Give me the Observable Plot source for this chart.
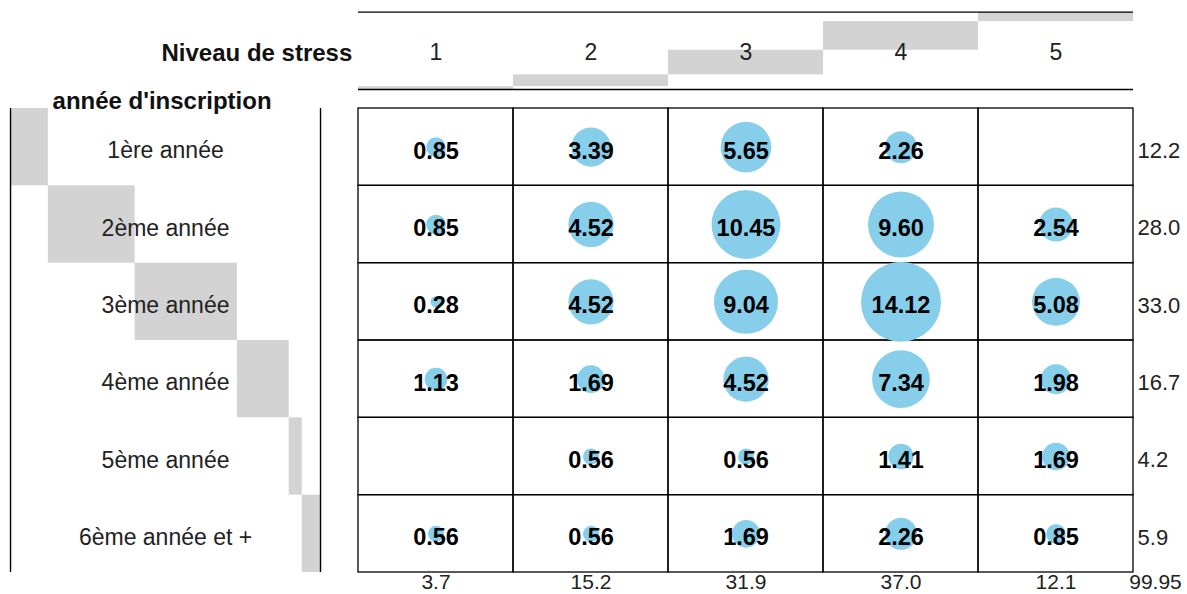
<!DOCTYPE html>
<html>
<head>
<meta charset="utf-8">
<script src="https://cdn.jsdelivr.net/npm/d3@7"></script>
<script src="https://cdn.jsdelivr.net/npm/@observablehq/plot@0.6"></script>
<style>
  html, body { margin: 0; padding: 0; background: #ffffff; overflow: hidden; }
  svg { display: block; }
</style>
</head>
<body>
<div id="chart"></div>
<script>
// ---- data ----
const stressLevels = ["1", "2", "3", "4", "5"];
const years = ["1ère année", "2ème année", "3ème année", "4ème année", "5ème année", "6ème année et +"];
const row1 = [0.85, 3.39, 5.65, 2.26, null];
const row2 = [0.85, 4.52, 10.45, 9.60, 2.54];
const row3 = [0.28, 4.52, 9.04, 14.12, 5.08];
const row4 = [1.13, 1.69, 4.52, 7.34, 1.98];
const row5 = [null, 0.56, 0.56, 1.41, 1.69];
const row6 = [0.56, 0.56, 1.69, 2.26, 0.85];
const rowTotals = [12.2, 28.0, 33.0, 16.7, 4.2, 5.9];
const colTotals = [3.7, 15.2, 31.9, 37.0, 12.1];
const grandTotal = "99.95";
const colTitle = "Niveau de stress";
const rowTitle = "année d'inscription";

// ---- build tables ----
const rows = [row1, row2, row3, row4, row5, row6];
const cells = [];
rows.forEach((r, i) => r.forEach((v, j) => {
  cells.push({row: i, col: j, value: v});
}));
const filled = cells.filter(d => d.value != null);

// layout in scale units (x: columns, y: rows)
const gap = 0.245;
const headBottom = -0.2457, headTop = headBottom - 1;
const sideRight = -gap, sideLeft = sideRight - 2;

let acc = 0;
const colBars = colTotals.map((t, j) => {
  const b = {col: j, y1: headBottom - acc / 100, y2: headBottom - (acc + t) / 100};
  acc += t; return b;
});
acc = 0;
const rowBars = rowTotals.map((t, i) => {
  const b = {row: i, x1: sideLeft + 2 * acc / 100, x2: sideLeft + 2 * (acc + t) / 100};
  acc += t; return b;
});

const font = "Liberation Sans, Arial, Helvetica, sans-serif";

const chart = Plot.plot({
  width: 1187,
  height: 594,
  margin: 0,
  style: {fontFamily: font, background: "#ffffff", color: "#000"},
  x: {type: "linear", domain: [0, 5], range: [358, 1133], axis: null},
  y: {type: "linear", domain: [0, 6], range: [108, 572], axis: null},
  r: {type: "sqrt", domain: [0, 14.12], range: [0, 40]},
  marks: [
    // marginal bars
    Plot.rect(colBars, {x1: d => d.col, x2: d => d.col + 1, y1: "y1", y2: "y2", fill: "#d3d3d3"}),
    Plot.rect(rowBars, {x1: "x1", x2: "x2", y1: d => d.row, y2: d => d.row + 1, fill: "#d3d3d3"}),
    // header lines
    Plot.ruleY([headTop, headBottom], {x1: 0, x2: 5, stroke: "#000", strokeWidth: 1.4}),
    // side lines
    Plot.ruleX([sideLeft, sideRight], {y1: 0, y2: 6, stroke: "#000", strokeWidth: 1.4}),
    // grid cells
    Plot.rect(cells, {x1: d => d.col, x2: d => d.col + 1, y1: d => d.row, y2: d => d.row + 1,
      fill: "none", stroke: "#000", strokeWidth: 1.3}),
    // balloons
    Plot.dot(filled, {x: d => d.col + 0.5, y: d => d.row + 0.5, r: "value", fill: "#87ceeb", stroke: "none"}),
    Plot.text(filled, {x: d => d.col + 0.5, y: d => d.row + 0.55, text: d => d.value.toFixed(2),
      fontSize: 23.5, fontWeight: "bold", fill: "#000"}),
    // column headers
    Plot.text(stressLevels, {x: (d, j) => j + 0.5, y: -0.72, text: d => d, fontSize: 23, fill: "#222"}),
    Plot.text([colTitle], {x: -0.04, y: -0.72, text: d => d, textAnchor: "end", fontSize: 24, fontWeight: "bold", fill: "#111"}),
    // row labels
    Plot.text(years, {x: -1.245, y: (d, i) => i + 0.55, text: d => d, fontSize: 23, fill: "#222"}),
    Plot.text([rowTitle], {x: -1.974, y: -0.09, text: d => d, textAnchor: "start", fontSize: 24, fontWeight: "bold", fill: "#111"}),
    // totals
    Plot.text(rowTotals, {x: 5.026, y: (d, i) => i + 0.55, text: d => d.toFixed(1), textAnchor: "start", fontSize: 22, fill: "#222"}),
    Plot.text(colTotals, {x: (d, j) => j + 0.5, y: 6.215, lineAnchor: "bottom", text: d => d.toFixed(1), fontSize: 21, fill: "#222"}),
    Plot.text([grandTotal], {x: 5.142, y: 6.215, lineAnchor: "bottom", text: d => d, fontSize: 21, fill: "#222"})
  ]
});
document.getElementById("chart").appendChild(chart);
</script>
</body>
</html>
